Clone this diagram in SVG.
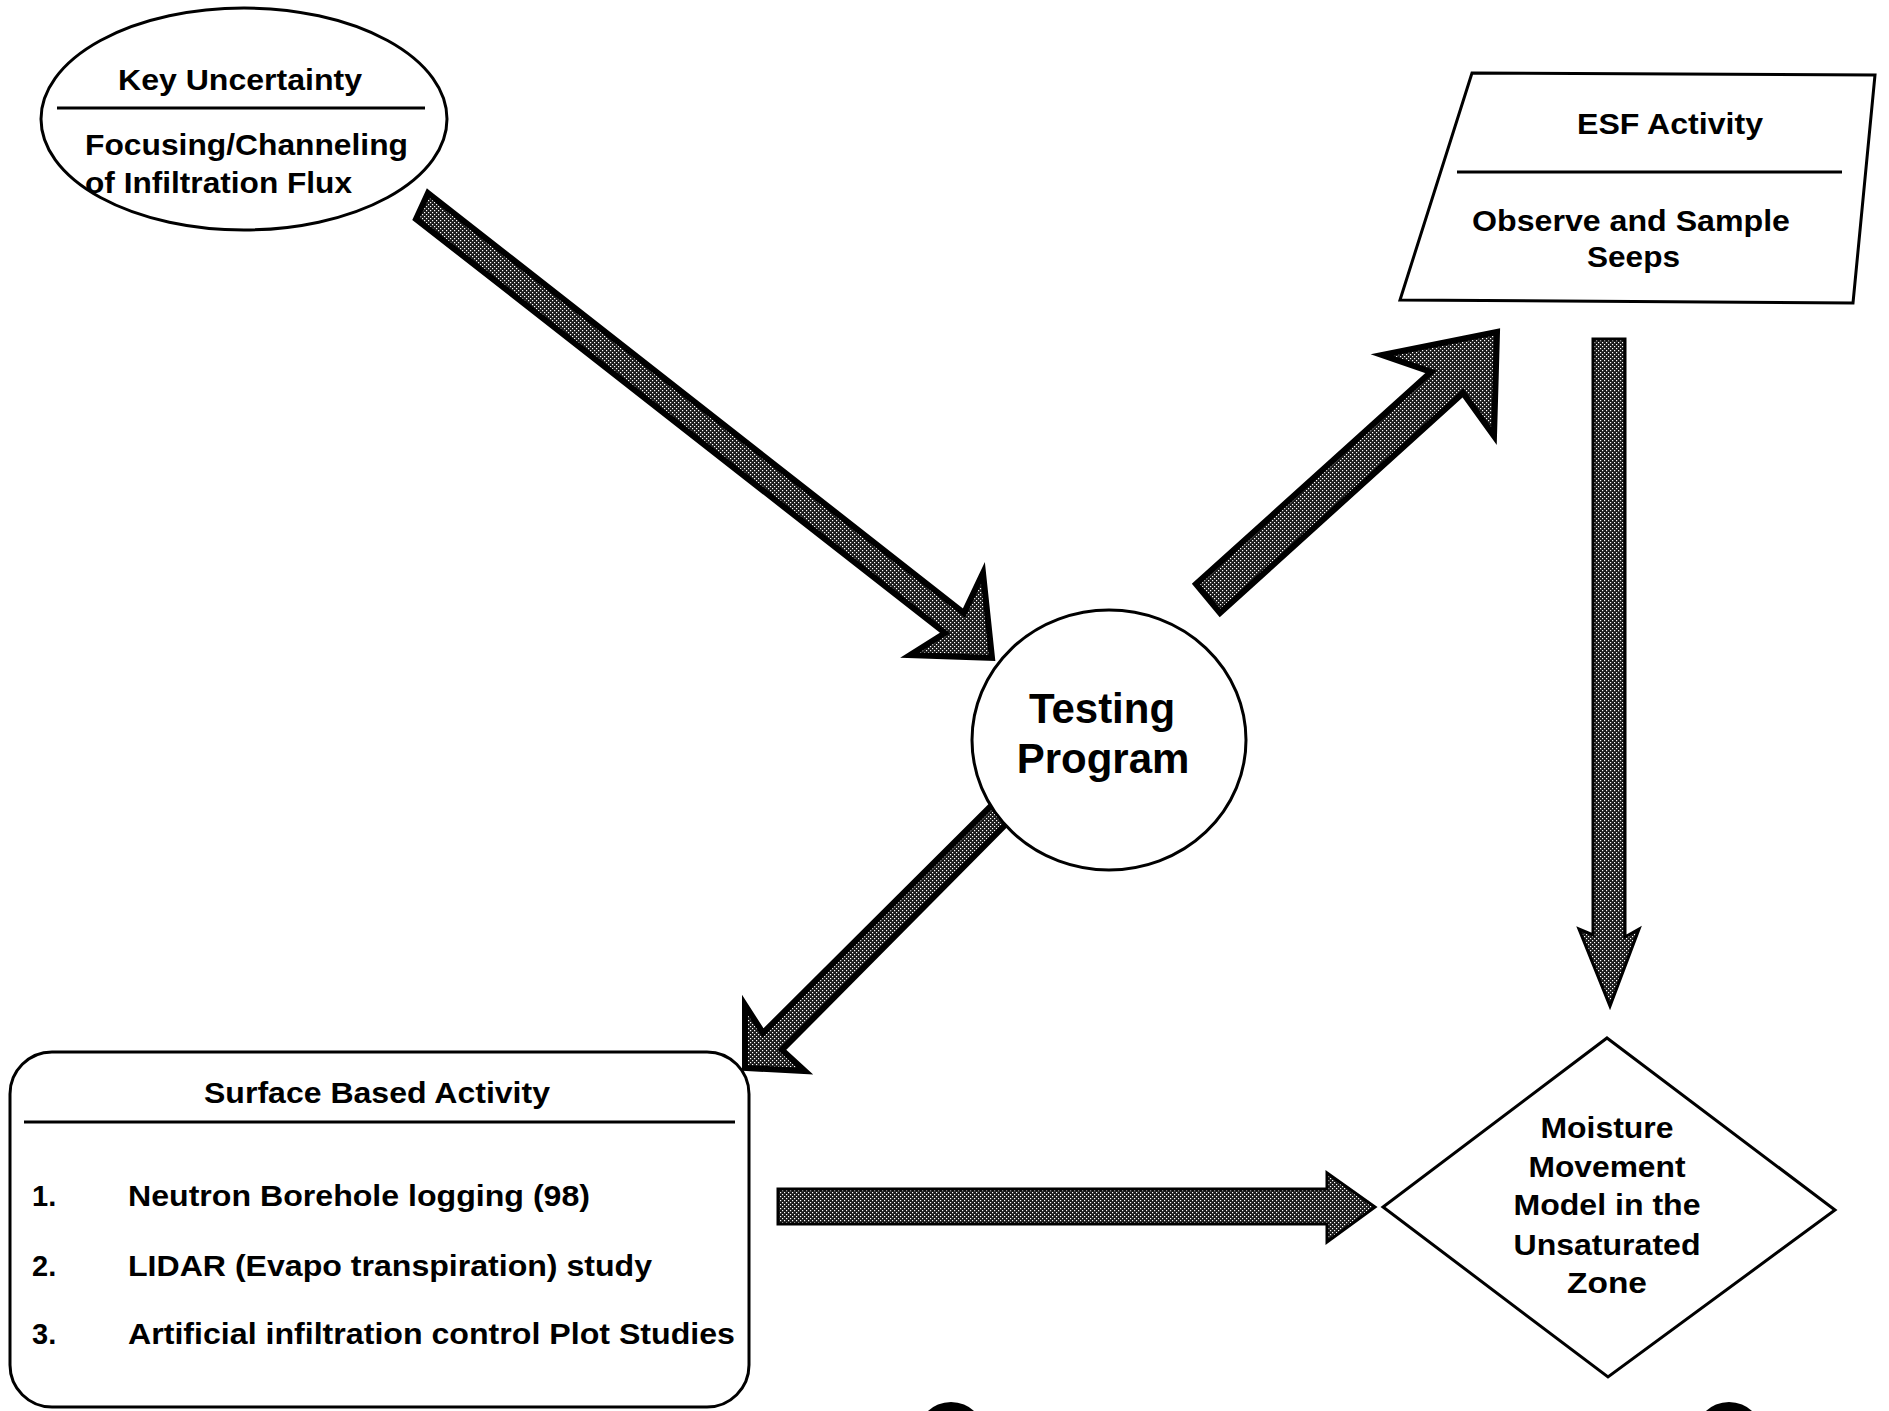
<svg xmlns="http://www.w3.org/2000/svg" width="1889" height="1411" viewBox="0 0 1889 1411">
  <style>
    .shape { fill: #fff; stroke: #000; stroke-width: 3; }
    .rule { stroke: #000; stroke-width: 3; }
    .t { font-family: "Liberation Sans", Arial, Helvetica, sans-serif; font-weight: bold; fill: #000; font-size: 29px; }
    .big { font-size: 42px; }
    .arrow { fill: url(#stipple); stroke: #000; stroke-linejoin: miter; }
    .heavy { stroke-width: 6; }
    .light { stroke-width: 3; }
    .blob { fill: #000; }
  </style>
  <defs>
    <!-- halftone fill used by the block arrows -->
    <pattern id="stipple" width="4" height="4" patternUnits="userSpaceOnUse">
      <rect width="4" height="4" fill="#1a1a1a"/>
      <rect x="0" y="0" width="1.2" height="1.2" fill="#fff"/>
      <rect x="2" y="2" width="1.2" height="1.2" fill="#fff"/>
    </pattern>
  </defs>

  <rect width="1889" height="1411" fill="#fff"/>

  <!-- block arrows -->
  <g id="connectors">
    <polygon class="arrow heavy" points="428,193 964,613 983,573 992,658 910,655 945,633 416,219"/>
    <polygon class="arrow heavy" points="1196,584 1431,372 1382,355 1497,332 1494,436 1463,393 1220,613"/>
    <polygon class="arrow heavy" points="992,805 763,1033 745,1005 745,1068 805,1071 782,1050 1007,823"/>
    <polygon class="arrow light" points="1593,339 1593,935 1579,929 1610,1006 1639,929 1625,937 1625,339"/>
    <polygon class="arrow light" points="778,1189 1327,1189 1327,1173 1375,1207 1327,1242 1327,1224 778,1224"/>
  </g>

  <g id="key-uncertainty">
    <ellipse class="shape" cx="244" cy="119" rx="203" ry="111"/>
    <line class="rule" x1="57" y1="108" x2="425" y2="108"/>
    <text class="t" x="118" y="90" textLength="244" lengthAdjust="spacingAndGlyphs">Key Uncertainty</text>
    <text class="t" x="85" y="155" style="font-size:30px" textLength="323" lengthAdjust="spacingAndGlyphs">Focusing/Channeling</text>
    <text class="t" x="85" y="193" style="font-size:30px" textLength="267" lengthAdjust="spacingAndGlyphs">of Infiltration Flux</text>
  </g>

  <g id="esf-activity">
    <polygon class="shape" points="1472,73 1875,75 1853,303 1400,300"/>
    <line class="rule" x1="1457" y1="172" x2="1842" y2="172"/>
    <text class="t" x="1577" y="134" textLength="186" lengthAdjust="spacingAndGlyphs">ESF Activity</text>
    <text class="t" x="1472" y="231" textLength="318" lengthAdjust="spacingAndGlyphs">Observe and Sample</text>
    <text class="t" x="1587" y="267" textLength="93" lengthAdjust="spacingAndGlyphs">Seeps</text>
  </g>

  <g id="testing-program">
    <ellipse class="shape" cx="1109" cy="740" rx="137" ry="130"/>
    <text class="t big" x="1102" y="723" text-anchor="middle">Testing</text>
    <text class="t big" x="1103" y="773" text-anchor="middle">Program</text>
  </g>

  <g id="surface-based-activity">
    <rect class="shape" x="10" y="1052" width="739" height="355" rx="42" ry="42"/>
    <line class="rule" x1="24" y1="1122" x2="735" y2="1122"/>
    <text class="t" x="204" y="1103" textLength="346" lengthAdjust="spacingAndGlyphs">Surface Based Activity</text>
    <text class="t" x="32" y="1206">1.</text>
    <text class="t" x="128" y="1206" textLength="462" lengthAdjust="spacingAndGlyphs">Neutron Borehole logging (98)</text>
    <text class="t" x="32" y="1276">2.</text>
    <text class="t" x="128" y="1276" textLength="524" lengthAdjust="spacingAndGlyphs">LIDAR (Evapo transpiration) study</text>
    <text class="t" x="32" y="1344">3.</text>
    <text class="t" x="128" y="1344" textLength="607" lengthAdjust="spacingAndGlyphs">Artificial infiltration control Plot Studies</text>
  </g>

  <g id="moisture-model">
    <polygon class="shape" points="1607,1038 1835,1210 1608,1377 1383,1207"/>
    <text class="t" x="1607" y="1138" text-anchor="middle" textLength="133" lengthAdjust="spacingAndGlyphs">Moisture</text>
    <text class="t" x="1607" y="1177" text-anchor="middle" textLength="157" lengthAdjust="spacingAndGlyphs">Movement</text>
    <text class="t" x="1607" y="1215" text-anchor="middle" textLength="187" lengthAdjust="spacingAndGlyphs">Model in the</text>
    <text class="t" x="1607" y="1255" text-anchor="middle" textLength="187" lengthAdjust="spacingAndGlyphs">Unsaturated</text>
    <text class="t" x="1607" y="1293" text-anchor="middle" textLength="80" lengthAdjust="spacingAndGlyphs">Zone</text>
  </g>

  <!-- tops of two solid discs cut by the lower edge -->
  <g id="lower-discs">
    <circle class="blob" cx="951" cy="1436" r="34"/>
    <circle class="blob" cx="1729" cy="1436" r="34"/>
  </g>
</svg>
